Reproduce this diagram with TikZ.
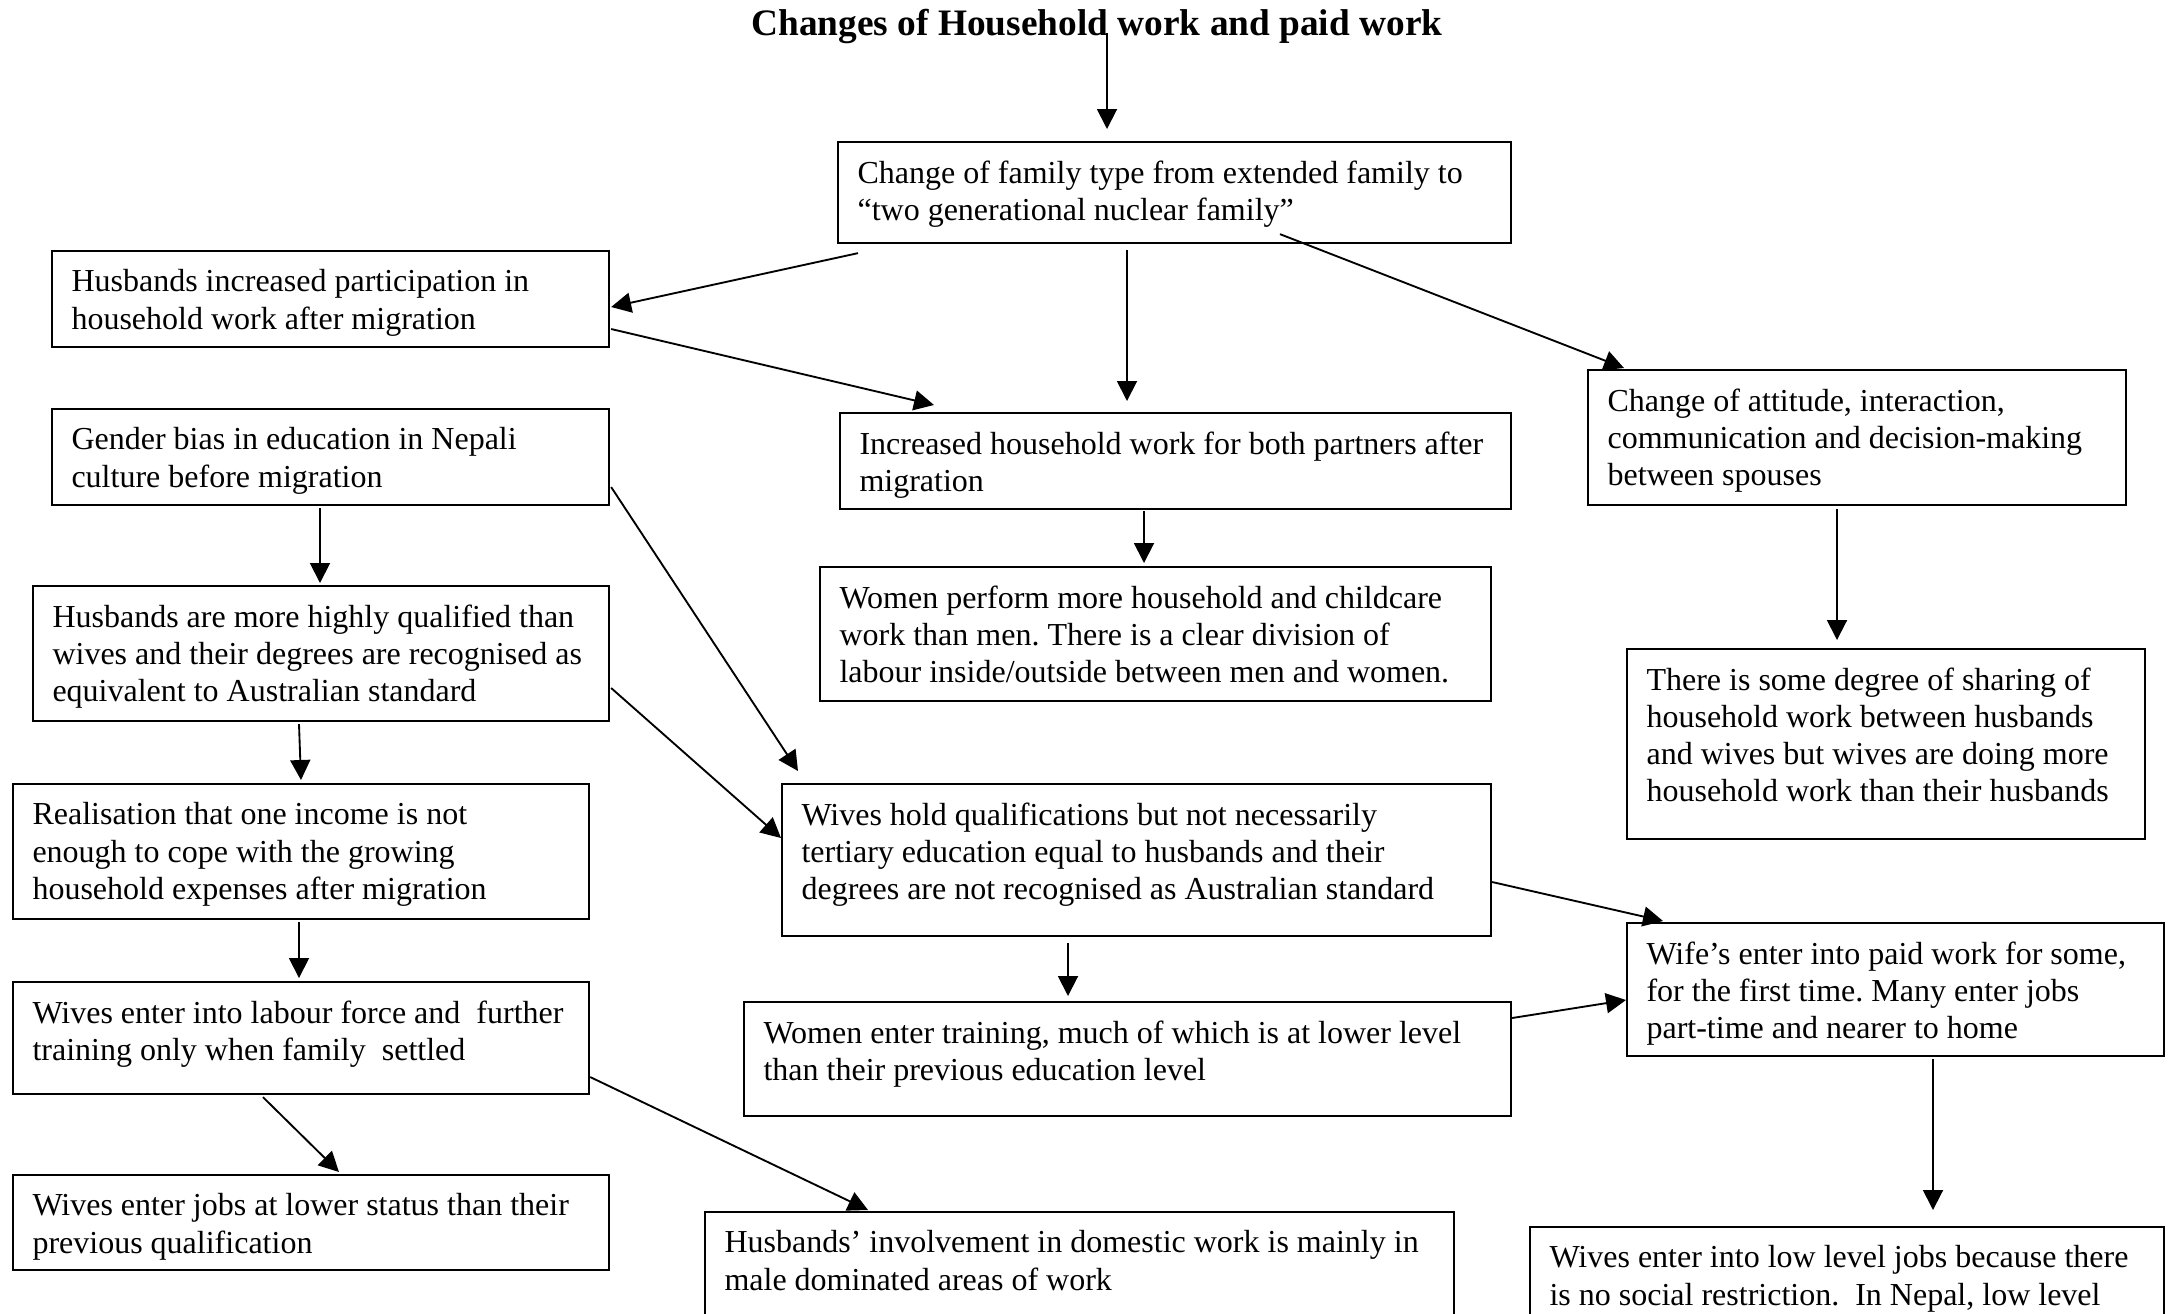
\documentclass[tikz,border=0pt]{standalone}
\usepackage{fontspec}
\setmainfont{Liberation Serif}
\usetikzlibrary{arrows.meta,calc}
\frenchspacing
\tikzset{
  boxshape/.style={draw, line width=0.8pt, rectangle, inner sep=0pt},
  boxtext/.style={inner sep=0pt, align=left, font=\fontsize{12pt}{13.9pt}\selectfont},
  arr/.style={line width=0.7pt, -{Triangle[length=7.5pt,width=7.5pt]}},
}
\newcommand\mkbox[6]{%
  \node[boxshape, anchor=north west, minimum width={(#4-#2)*0.375pt}, minimum height={(#5-#3)*0.375pt}] (#1) at (#2,#3) {};
  \node[boxtext, anchor=north west] (#1t) at ($(#1.north west)+(20,19)$) {\rule{0pt}{8.4pt}#6};
}
\begin{document}
\frenchspacing
\begin{tikzpicture}[x=0.375pt,y=-0.375pt]
\useasboundingbox (0,0) rectangle (2170,1313);
\clip (0,0) rectangle (2170,1313);
\node[inner sep=0pt, anchor=base, font=\fontsize{14pt}{16pt}\selectfont\bfseries] (title) at (1097,35) {Changes of Household work and paid work};

\mkbox{b1}{837}{141}{1510}{242}{Change of family type from extended family to\\``two generational nuclear family''}
\mkbox{b2}{51}{250}{608}{346}{Husbands increased participation in\\household work after migration}
\mkbox{b3}{839}{412}{1510}{508}{Increased household work for both partners after\\migration}
\mkbox{b4}{51}{408}{608}{504}{Gender bias in education in Nepali\\culture before migration}
\mkbox{att}{1587}{369}{2125}{504}{Change of attitude, interaction,\\communication and decision-making\\between spouses}
\mkbox{b5}{819}{566}{1490}{700}{Women perform more household and childcare\\work than men. There is a clear division of\\labour inside/outside between men and women.}
\mkbox{b6}{32}{585}{608}{720}{Husbands are more highly qualified than\\wives and their degrees are recognised as\\equivalent to Australian standard}
\mkbox{share}{1626}{648}{2144}{838}{There is some degree of sharing of\\household work between husbands\\and wives but wives are doing more\\household work than their husbands}
\mkbox{b7}{12}{783}{588}{918}{Realisation that one income is not\\enough to cope with the growing\\household expenses after migration}
\mkbox{b8}{781}{783}{1490}{935}{Wives hold qualifications but not necessarily\\tertiary education equal to husbands and their\\degrees are not recognised as Australian standard}
\mkbox{b9}{1626}{922}{2163}{1055}{Wife’s enter into paid work for some,\\for the first time. Many enter jobs\\part-time and nearer to home}
\mkbox{b10}{12}{981}{588}{1093}{Wives enter into labour force and \ further\\training only when family \ settled}
\mkbox{b11}{743}{1001}{1510}{1115}{Women enter training, much of which is at lower level\\than their previous education level}
\mkbox{b12}{12}{1174}{608}{1269}{Wives enter jobs at lower status than their\\previous qualification}
\mkbox{b13}{704}{1211}{1453}{1345}{Husbands’ involvement in domestic work is mainly in\\male dominated areas of work}
\mkbox{b14}{1529}{1226}{2163}{1345}{Wives enter into low level jobs because there\\is no social restriction. \ In Nepal, low level}

\draw[arr] ($(title.base)+(10,-2)$) -- ($(b1.north west)+(270,-12)$);
\draw[arr] ($(b1.south west)+(21,9)$) -- ($(b2.north east)+(1,57)$);
\draw[arr] ($(b1.south west)+(290,6)$) -- ($(b3.north west)+(288,-11)$);
\draw[arr] ($(b1.south west)+(443,-10)$) -- ($(att.north west)+(37,-1)$);
\draw[arr] ($(b2.north east)+(1,79)$) -- ($(b3.north west)+(95,-7)$);
\draw[arr] ($(b3.south west)+(305,1)$) -- ($(b5.north west)+(325,-3)$);
\draw[arr] ($(b4.south west)+(269,2)$) -- ($(b6.north west)+(288,-2)$);
\draw[arr] ($(b4.north east)+(1,79)$) -- ($(b8.north west)+(17,-12)$);
\draw[arr] ($(att.south west)+(250,3)$) -- ($(share.north west)+(211,-8)$);
\draw[arr] ($(b6.south west)+(267,2)$) -- ($(b7.north west)+(289,-3)$);
\draw[arr] ($(b6.north east)+(1,103)$) -- ($(b8.north west)+(0,55)$);
\draw[arr] ($(b7.south west)+(287,2)$) -- ($(b10.north west)+(287,-3)$);
\draw[arr] ($(b8.south west)+(287,6)$) -- ($(b11.north west)+(325,-5)$);
\draw[arr] ($(b8.north east)+(0,99)$) -- ($(b9.north west)+(37,-1)$);
\draw[arr] ($(b11.north east)+(0,17)$) -- ($(b9.north west)+(0,78)$);
\draw[arr] ($(b10.south west)+(251,2)$) -- ($(b12.north west)+(327,-2)$);
\draw[arr] ($(b10.north east)+(0,96)$) -- ($(b13.north west)+(164,-1)$);
\draw[arr] ($(b9.south west)+(307,2)$) -- ($(b14.north west)+(404,-16)$);
\end{tikzpicture}
\end{document}
